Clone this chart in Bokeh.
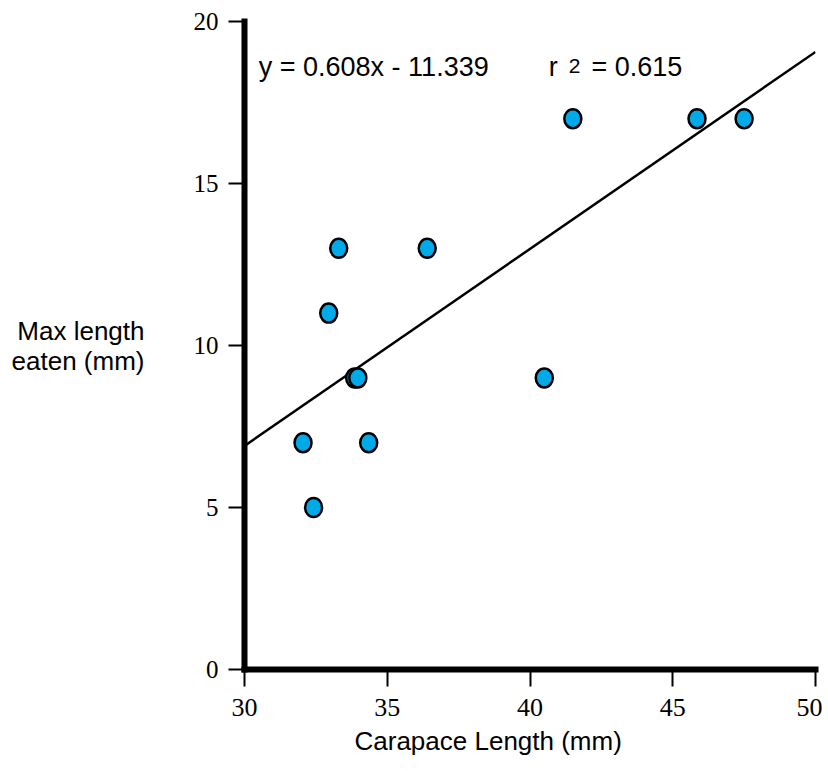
from bokeh.plotting import figure
from bokeh.models import Range1d, Label, FixedTicker, Title
from bokeh.embed import file_html
from bokeh.resources import INLINE

# Data
carapace = [32.05, 32.42, 32.95, 33.3, 33.86, 33.97, 34.35, 36.4, 40.5, 41.5, 45.85, 47.5]
max_eaten = [7, 5, 11, 13, 9, 9, 7, 13, 9, 17, 17, 17]
slope = 0.608
intercept = -11.339
r2 = 0.615
x_ticks = [30, 35, 40, 45, 50]
y_ticks = [0, 5, 10, 15, 20]
x_title = "Carapace Length (mm)"
y_title = "Max length\neaten (mm)"

p = figure(width=822, height=770,
           x_range=Range1d(x_ticks[0], x_ticks[-1]),
           y_range=Range1d(y_ticks[0], y_ticks[-1]),
           output_backend="svg", toolbar_location=None,
           min_border_left=244, min_border_right=7,
           min_border_top=21, min_border_bottom=101)
p.grid.visible = False
p.outline_line_color = None
p.background_fill_color = "white"
p.border_fill_color = "white"

# regression line
lx = [x_ticks[0], x_ticks[-1]]
ly = [slope * v + intercept for v in lx]
p.line(lx, ly, line_color="black", line_width=2.5)

# points
p.ellipse(carapace, max_eaten, width=17, height=19,
          width_units="screen", height_units="screen",
          fill_color="#00A9E8", line_color="black", line_width=2.5)

sans = "Liberation Sans"

for ax in (p.xaxis[0], p.yaxis[0]):
    ax.axis_line_width = 6
    ax.axis_line_color = "black"
    ax.axis_line_cap = "square"
    ax.major_tick_line_width = 2
    ax.major_tick_line_color = "black"
    ax.major_tick_in = 0
    ax.minor_tick_line_color = None
    ax.major_label_text_font = "Liberation Serif"
    ax.major_label_text_color = "black"
    ax.axis_label_text_font = sans
    ax.axis_label_text_font_size = "26px"
    ax.axis_label_text_font_style = "normal"
    ax.axis_label_text_color = "black"

p.xaxis.major_label_text_font_size = "26px"
p.yaxis.major_label_text_font_size = "25px"
p.xaxis.ticker = FixedTicker(ticks=x_ticks)
p.yaxis.ticker = FixedTicker(ticks=y_ticks)
p.xaxis.major_tick_out = 17
p.yaxis.major_tick_out = 16
p.xaxis.major_label_standoff = 12
p.yaxis.major_label_standoff = 10

p.yaxis.axis_label = y_title
p.yaxis.axis_label_orientation = "horizontal"
p.yaxis.axis_label_standoff = 46
p.yaxis.axis_label_text_line_height = 1.0

# x title below the axis, left-anchored so that it sits where the reference has it
p.add_layout(Title(text=x_title, align="left", offset=110, standoff=10,
                   text_font=sans, text_font_size="26px", text_font_style="normal",
                   text_color="black"), "below")

# equation text
ty = 18.6
p.add_layout(Label(x=30.5, y=ty, text=f"y = {slope}x - {abs(intercept)}",
                   text_font=sans, text_font_size="27px", text_color="black",
                   text_baseline="alphabetic"))
p.add_layout(Label(x=40.66, y=ty, text="r",
                   text_font=sans, text_font_size="27px", text_color="black",
                   text_baseline="alphabetic"))
p.add_layout(Label(x=41.36, y=ty, y_offset=1, text="2",
                   text_font=sans, text_font_size="21px", text_color="black",
                   text_baseline="alphabetic"))
p.add_layout(Label(x=42.15, y=ty, text=f"= {r2}",
                   text_font=sans, text_font_size="27px", text_color="black",
                   text_baseline="alphabetic"))

open("out.html", "w").write(file_html(p, INLINE))
